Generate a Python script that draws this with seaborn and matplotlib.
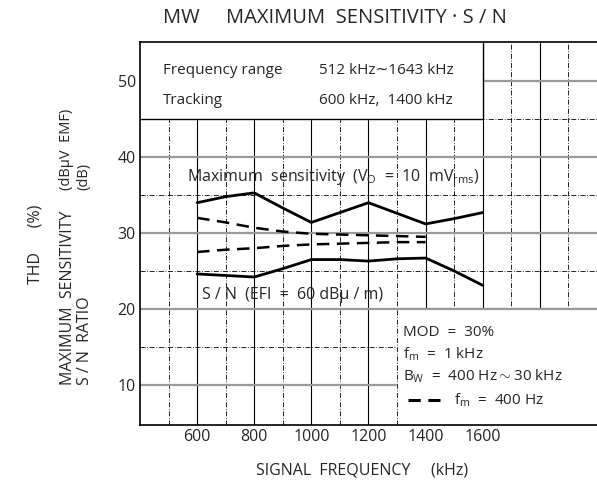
import numpy as np
import pandas as pd
import matplotlib
matplotlib.use('Agg')
import matplotlib.pyplot as plt
import seaborn as sns

# values (kHz, dB)
freq = [600, 700, 800, 900, 1000, 1100, 1200, 1300, 1400, 1500, 1600]
max_sens = [34.0, 34.8, 35.3, 33.3, 31.4, 32.7, 34.0, 32.6, 31.2, 31.9, 32.7]
snr = [24.6, 24.4, 24.2, 25.3, 26.5, 26.5, 26.3, 26.6, 26.7, 25.0, 23.1]

freq_400 = [600, 700, 800, 900, 1000, 1100, 1200, 1300, 1400]
max_sens_400 = [32.0, 31.4, 30.7, 30.2, 29.9, 29.8, 29.7, 29.6, 29.5]
snr_400 = [27.5, 27.8, 28.0, 28.3, 28.5, 28.6, 28.7, 28.8, 28.8]

x_ticks = [600, 800, 1000, 1200, 1400, 1600]
y_ticks = [10, 20, 30, 40, 50]

sns.set_style('white')
plt.rcParams['font.family'] = ['Open Sans', 'DejaVu Sans']
plt.rcParams['mathtext.fontset'] = 'custom'
plt.rcParams['mathtext.rm'] = 'Open Sans'
plt.rcParams['mathtext.it'] = 'Open Sans:italic'

fig = plt.figure(figsize=(5.97, 4.94), dpi=100)
ax = fig.add_axes([0.2345, 0.14, 0.7655, 0.775])
ax.set_xlim(400, 2000)
ax.set_ylim(4.7, 55.2)

# grid
for xv in range(500, 2000, 100):
    if xv % 200 == 0:
        ax.axvline(xv, color='black', lw=0.8, zorder=1)
    else:
        ax.axvline(xv, color='black', lw=0.6, ls=(0, (6, 2, 1, 2)), zorder=1)
for yv in range(10, 55, 5):
    if yv % 10 == 0:
        ax.axhline(yv, color='#9a9a9a', lw=1.6, zorder=1)
    else:
        ax.axhline(yv, color='black', lw=0.6, ls=(0, (6, 2, 1, 2)), zorder=1)

# note boxes blank out the grid
ax.fill_between([400, 1600], 45, 55.2, color='white', zorder=2)
ax.plot([400, 1600, 1600], [45, 45, 55.2], color='black', lw=1.0, zorder=3)
ax.fill_between([1300, 2000], 4.7, 20, color='white', zorder=2)
ax.plot([1300, 1300], [4.7, 20], color='black', lw=0.6, ls=(0, (6, 2, 1, 2)), zorder=3)
ax.plot([1300, 2000], [20, 20], color='#9a9a9a', lw=1.6, zorder=3)

df = pd.DataFrame({'freq': freq, 'max_sens': max_sens, 'snr': snr})
df400 = pd.DataFrame({'freq': freq_400, 'max_sens': max_sens_400, 'snr': snr_400})
for col in ['max_sens', 'snr']:
    sns.lineplot(data=df, x='freq', y=col, ax=ax, color='black', lw=2.0, zorder=4)
    sns.lineplot(data=df400, x='freq', y=col, ax=ax, color='black', lw=1.8,
                 zorder=4).lines[-1].set_linestyle((0, (5, 3)))

ax.set_xticks(x_ticks)
ax.set_yticks(y_ticks)
ax.tick_params(axis='both', length=0, labelsize=11.5, pad=3)
ax.set_xlabel('')
ax.set_ylabel('')
for s in ['left', 'top', 'bottom']:
    ax.spines[s].set_color('black')
    ax.spines[s].set_linewidth(1.2)
ax.spines['right'].set_visible(False)

# texts
fs = 11
ax.text(480, 51.4, 'Frequency range', fontsize=fs, va='center', zorder=5)
ax.text(1027, 51.4, '512 kHz\u223c1643 kHz', fontsize=fs, va='center', zorder=5)
ax.text(480, 47.5, 'Tracking', fontsize=fs, va='center', zorder=5)
ax.text(1027, 47.5, '600 kHz,  1400 kHz', fontsize=fs, va='center', zorder=5)
ax.text(564, 37.4, r'Maximum  sensitivity  (V$_{\rm O}$  =  10  mV$_{\rm rms}$)',
        fontsize=11.5, va='center', zorder=5)
ax.text(616, 21.8, 'S / N  (EFI  =  60 dB\u03bc / m)', fontsize=11.5, va='center', zorder=5)
ax.text(1320, 16.9, 'MOD  =  30%', fontsize=fs, va='center', zorder=5)
ax.text(1320, 14.0, r'f$_{\rm m}$  =  1 kHz', fontsize=fs, va='center', zorder=5)
ax.text(1320, 11.1, r'B$_{\rm W}$  =  400 Hz$\sim$30 kHz', fontsize=fs, va='center', zorder=5)
ax.plot([1340, 1450], [8.0, 8.0], color='black', lw=2.2, ls=(0, (4, 2.5)), zorder=5)
ax.text(1500, 8.0, r'f$_{\rm m}$  =  400 Hz', fontsize=fs, va='center', zorder=5)

fig.text(0.561, 0.963, 'MW     MAXIMUM  SENSITIVITY \u00b7 S / N', fontsize=14.5,
         ha='center', va='center')
fig.text(0.606, 0.048, 'SIGNAL  FREQUENCY     (kHz)', fontsize=11.5, ha='center', va='center')
fig.text(0.059, 0.505, 'THD      (%)', fontsize=11.5, rotation=90, ha='center', va='center')
fig.text(0.114, 0.22, 'MAXIMUM  SENSITIVITY', fontsize=11.5, rotation=90,
         ha='center', va='bottom')
fig.text(0.142, 0.22, 'S / N  RATIO', fontsize=11.5, rotation=90, ha='center', va='bottom')
fig.text(0.112, 0.615, '(dB\u03bcV  EMF)', fontsize=10.5, rotation=90, ha='center', va='bottom')
fig.text(0.140, 0.615, '(dB)', fontsize=10.5, rotation=90, ha='center', va='bottom')

fig.savefig('out.png', dpi=100)
